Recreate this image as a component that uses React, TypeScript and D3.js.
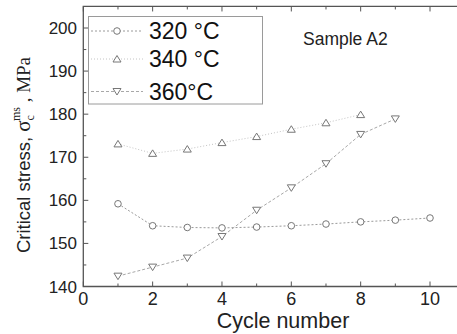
import { useRef, useEffect } from 'react'
import * as d3 from 'd3'

const W = 457
const H = 334

const CYCLES_320 = [1, 2, 3, 4, 5, 6, 7, 8, 9, 10]
const STRESS_320 = [159.2, 154.1, 153.7, 153.6, 153.8, 154.1, 154.5, 155.0, 155.4, 155.9]
const CYCLES_340 = [1, 2, 3, 4, 5, 6, 7, 8]
const STRESS_340 = [173.1, 170.9, 171.9, 173.4, 174.8, 176.5, 178.0, 179.9]
const CYCLES_360 = [1, 2, 3, 4, 5, 6, 7, 8, 9]
const STRESS_360 = [142.4, 144.5, 146.6, 151.6, 157.7, 162.9, 168.5, 175.3, 178.9]

const X_TICKS = [0, 2, 4, 6, 8, 10]
const Y_TICKS = [140, 150, 160, 170, 180, 190, 200]

const SERIES = [
  { label: '320 °C', xs: CYCLES_320, ys: STRESS_320, marker: 'circle', dash: '2,2', color: '#9a9a9a' },
  { label: '340 °C', xs: CYCLES_340, ys: STRESS_340, marker: 'up', dash: '1,2', color: '#c4c4c4' },
  { label: '360°C', xs: CYCLES_360, ys: STRESS_360, marker: 'down', dash: '3,2', color: '#a8a8a8' },
]

const AXIS = '#555'
const MARK = '#777'
const SANS = 'Arial, "Liberation Sans", Helvetica, sans-serif'
const SERIF = '"Liberation Serif", "Times New Roman", serif'

function drawMarker(g, kind, cx, cy) {
  if (kind === 'circle') {
    g.append('circle').attr('cx', cx).attr('cy', cy).attr('r', 3.3)
      .attr('fill', '#fff').attr('stroke', MARK).attr('stroke-width', 1)
  } else {
    const s = kind === 'up' ? -1 : 1
    const pts = [[cx - 4, cy - s * 3], [cx + 4, cy - s * 3], [cx, cy + s * 3.5]]
    g.append('polygon').attr('points', pts.map(p => p.join(',')).join(' '))
      .attr('fill', '#fff').attr('stroke', MARK).attr('stroke-width', 1)
  }
}

function drawChart(svgEl) {
  const svg = d3.select(svgEl)
  svg.selectAll('*').remove()

  const x = d3.scaleLinear().domain([0, 10]).range([83.3, 430])
  const y = d3.scaleLinear().domain([140, 200]).range([286.5, 28])
  const top = y(205)
  const bottom = y(140)
  const left = x(0)
  const right = x(11)

  // data lines + markers
  SERIES.forEach(s => {
    const pts = s.xs.map((v, i) => [x(v), y(s.ys[i])])
    svg.append('path').attr('d', d3.line()(pts))
      .attr('fill', 'none').attr('stroke', s.color).attr('stroke-width', 1)
      .attr('stroke-dasharray', s.dash)
    const g = svg.append('g')
    pts.forEach(p => drawMarker(g, s.marker, p[0], p[1]))
  })

  // frame (right side runs off the picture)
  svg.append('path')
    .attr('d', `M${right},${top}H${left}V${bottom}H${right}`)
    .attr('fill', 'none').attr('stroke', AXIS).attr('stroke-width', 1.3)

  const ax = svg.append('g').attr('stroke', AXIS).attr('stroke-width', 1)
  d3.range(0, 12).forEach(v => {
    const len = v % 2 === 0 ? 5 : 3
    ax.append('line').attr('x1', x(v)).attr('x2', x(v)).attr('y1', bottom).attr('y2', bottom - len)
    ax.append('line').attr('x1', x(v)).attr('x2', x(v)).attr('y1', top).attr('y2', top + len)
  })
  d3.range(140, 205, 5).forEach(v => {
    const len = v % 10 === 0 ? 5 : 3
    ax.append('line').attr('x1', left).attr('x2', left + len).attr('y1', y(v)).attr('y2', y(v))
  })

  // tick labels
  svg.append('g').selectAll('text').data(Y_TICKS).join('text')
    .attr('x', 77).attr('y', d => y(d) + 6)
    .attr('text-anchor', 'end').attr('font-family', SANS).attr('font-size', 17).attr('fill', '#222')
    .text(d => d)
  svg.append('g').selectAll('text').data(X_TICKS).join('text')
    .attr('x', d => x(d)).attr('y', 305)
    .attr('text-anchor', 'middle').attr('font-family', SANS).attr('font-size', 18).attr('fill', '#222')
    .text(d => d)

  // axis titles
  svg.append('text').attr('x', 283).attr('y', 328)
    .attr('text-anchor', 'middle').attr('font-family', SANS).attr('font-size', 21.5).attr('fill', '#222')
    .text('Cycle number')

  const yt = svg.append('text')
    .attr('transform', 'translate(30,155) rotate(-90)')
    .attr('text-anchor', 'middle').attr('font-family', SANS).attr('font-size', 18.5).attr('fill', '#222')
  yt.append('tspan').text('Critical stress, ')
  yt.append('tspan').attr('font-family', SERIF).attr('font-size', 21).text('σ')
  yt.append('tspan').attr('font-family', SERIF).attr('font-size', 12).attr('dy', 4).text('c')
  yt.append('tspan').attr('font-family', SERIF).attr('font-size', 12).attr('dx', -6).attr('dy', -14).text('ms')
  yt.append('tspan').attr('font-family', SERIF).attr('font-size', 19).attr('dy', 10).text(' , MPa')

  // sample label
  svg.append('text').attr('x', 303).attr('y', 45)
    .attr('font-family', SANS).attr('font-size', 17.5).attr('fill', '#222')
    .text('Sample A2')

  // legend
  const lg = svg.append('g')
  lg.append('rect').attr('x', 88.5).attr('y', 16.5).attr('width', 174).attr('height', 87.5)
    .attr('fill', '#fff').attr('stroke', '#9a9a9a').attr('stroke-width', 1)
  const rowY = [31, 59, 91.5]
  SERIES.forEach((s, i) => {
    const cy = rowY[i]
    lg.append('line').attr('x1', 91).attr('x2', 143).attr('y1', cy).attr('y2', cy)
      .attr('stroke', s.color).attr('stroke-dasharray', s.dash)
    drawMarker(lg, s.marker, 117, cy)
    lg.append('text').attr('x', 149).attr('y', cy + 8.3)
      .attr('font-family', SANS).attr('font-size', 23).attr('fill', '#111')
      .text(s.label)
  })
}

export default function App() {
  const ref = useRef(null)
  useEffect(() => {
    if (ref.current) drawChart(ref.current)
  }, [])
  return (
    <div style={{ position: 'fixed', left: 0, top: 0, width: W, height: H, background: '#fff' }}>
      <svg ref={ref} width={W} height={H} style={{ display: 'block' }} />
    </div>
  )
}
